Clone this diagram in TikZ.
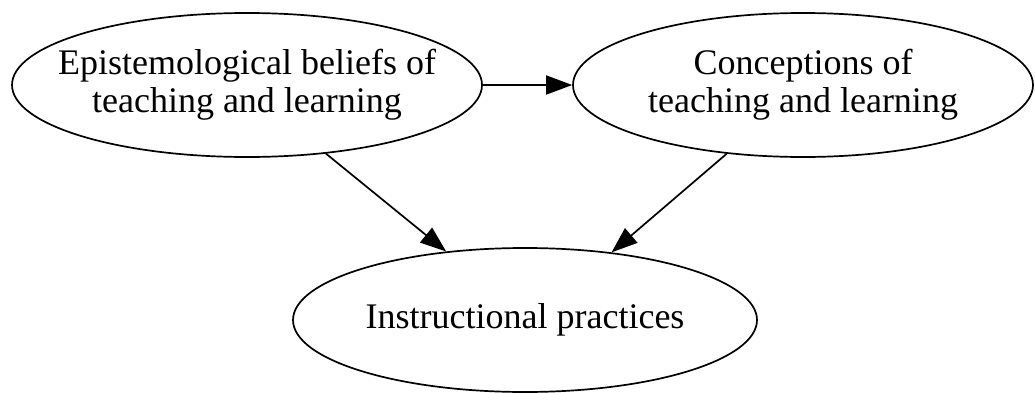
\documentclass[tikz,border=0pt]{standalone}
\usepackage{fontspec}
\setmainfont{Liberation Serif}
\usetikzlibrary{arrows.meta,shapes.geometric}

\begin{document}
\begin{tikzpicture}[x=1pt, y=1pt,
	belief/.style = {draw, ellipse, line width=1.7pt, inner ysep=0pt, inner xsep=-90pt, minimum height=144pt, align=center, font=\fontsize{36}{38}\selectfont},
	link/.style = {line width=1.7pt, -{Triangle[length=26pt,width=19pt]}}]

	\useasboundingbox (0,0) rectangle (1035,392);
	
	\node[belief, minimum width=470pt] (epi) at (247,307) {Epistemological beliefs of\\teaching and learning};
	\node[belief, minimum width=460pt] (conc) at (803,307) {Conceptions of\\teaching and learning};
	\node[belief, minimum width=464pt] (inst) at (525,72) {Instructional practices};
	
	\draw[link] (epi.east) -- (conc.west);
	\draw[link] (epi.-41) -- (inst.139);
	\draw[link] (conc.222.6) -- (inst.38.9);
	 
\end{tikzpicture}
\end{document}
